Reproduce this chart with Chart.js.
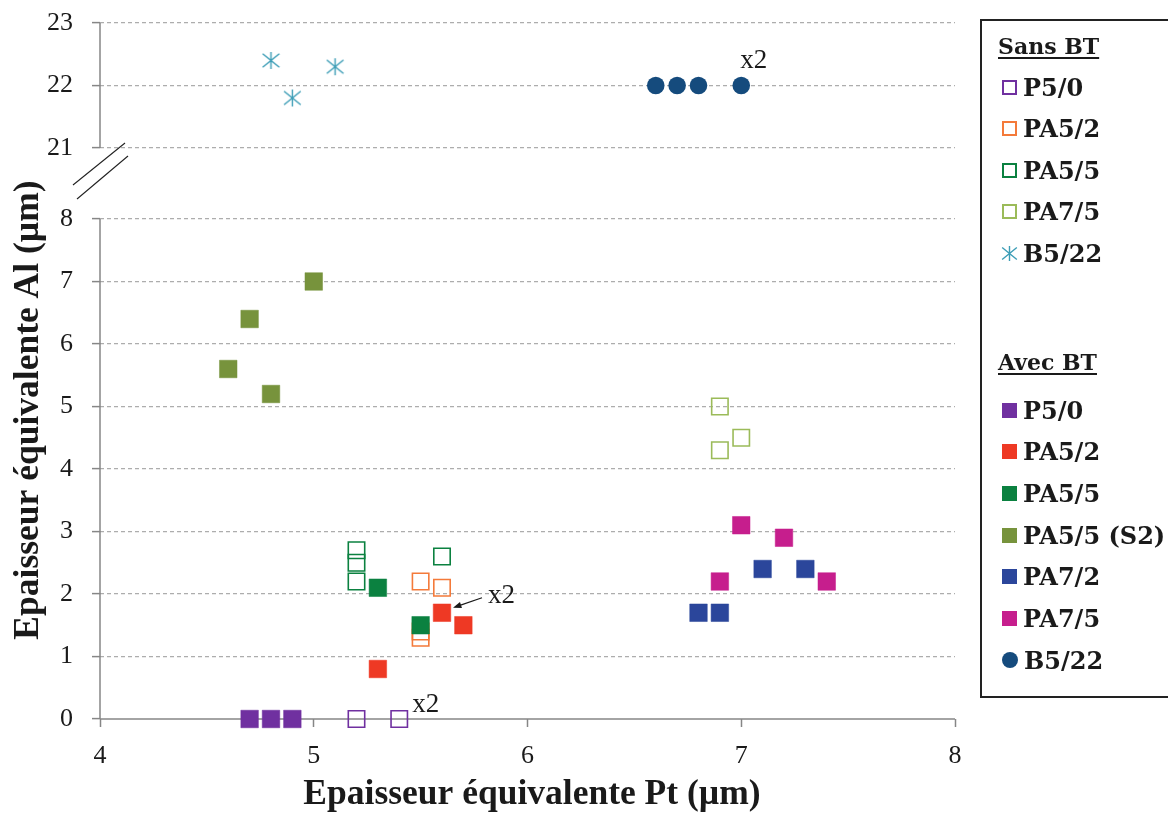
<!DOCTYPE html>
<html><head><meta charset="utf-8">
<script src="https://cdn.jsdelivr.net/npm/chart.js@4.4.1/dist/chart.umd.min.js"></script>
<style>
html,body{margin:0;padding:0;background:#fff;}
#wrap{position:relative;width:1168px;height:815px;overflow:hidden;}
#c{position:absolute;left:0;top:0;}
#legend{position:absolute;left:980px;top:19px;width:230px;height:679px;border:2px solid #222;box-sizing:border-box;font-family:"DejaVu Serif";font-weight:bold;font-size:24px;color:#1a1a1a;}
.row{position:absolute;left:20px;height:30px;display:flex;align-items:center;transform:translateY(-50%);white-space:nowrap;}
.head{position:absolute;left:16px;font-size:22px;text-decoration:underline;text-underline-offset:3px;text-decoration-thickness:2px;transform:translateY(-50%);white-space:nowrap;}
.mk{width:15px;height:15px;box-sizing:border-box;margin-right:6px;flex:none;}
</style></head>
<body><div id="wrap"><canvas id="c" width="1168" height="815"></canvas><div id="legend"></div></div>
<script>
// ---- data ----
const X_TICKS = [4, 5, 6, 7, 8];
const Y_TICKS = [0, 1, 2, 3, 4, 5, 6, 7, 8, 21, 22, 23];
const X_TITLE = 'Epaisseur équivalente Pt (µm)';
const Y_TITLE = 'Epaisseur équivalente Al (µm)';
const GROUP_SANS = 'Sans BT';
const GROUP_AVEC = 'Avec BT';

// Sans BT (open markers)
const SANS_P5_0  = [[5.2, 0], [5.4, 0]];
const SANS_PA5_2 = [[5.5, 2.2], [5.6, 2.1], [5.5, 1.4], [5.5, 1.3]];
const SANS_PA5_5 = [[5.2, 2.7], [5.2, 2.5], [5.2, 2.2], [5.6, 2.6]];
const SANS_PA7_5 = [[6.9, 5.0], [6.9, 4.3], [7.0, 4.5]];
const SANS_B5_22 = [[4.8, 22.4], [4.9, 21.8], [5.1, 22.3]];
// Avec BT (filled markers)
const AVEC_P5_0    = [[4.7, 0], [4.8, 0], [4.9, 0]];
const AVEC_PA5_2   = [[5.3, 0.8], [5.6, 1.7], [5.7, 1.5]];
const AVEC_PA5_5   = [[5.3, 2.1], [5.5, 1.5]];
const AVEC_PA5_5S2 = [[4.6, 5.6], [4.7, 6.4], [4.8, 5.2], [5.0, 7.0]];
const AVEC_PA7_2   = [[6.8, 1.7], [6.9, 1.7], [7.1, 2.4], [7.3, 2.4]];
const AVEC_PA7_5   = [[6.9, 2.2], [7.0, 3.1], [7.2, 2.9], [7.4, 2.2]];
const AVEC_B5_22   = [[6.6, 22], [6.7, 22], [6.8, 22], [7.0, 22]];

// "x2" annotations: [x, y] of the duplicated point
const DUP_TOP = [7.0, 22];
const DUP_MID = [5.6, 1.7];
const DUP_LOW = [5.4, 0];
const DUP_TEXT = 'x2';

// ---- broken axis mapping ----
const BREAK_LO = 8, BREAK_HI = 21, BREAK_GAP = 1.136;
const toAxis = v => v >= BREAK_HI ? v - BREAK_HI + BREAK_LO + BREAK_GAP : v;
const fromAxis = a => a > BREAK_LO + BREAK_GAP / 2 ? a - BREAK_LO - BREAK_GAP + BREAK_HI : a;

const C = {
  purple: '#7030A0', orange: '#F47A3A', green: '#0B8140', lgreen: '#9BBB59', teal: '#3C9DB6',
  red: '#EE3924', olive: '#77933C', blue: '#2B469B', magenta: '#C61E8D', navy: '#154B7D'
};

function starCanvas(color, s) {
  const cv = document.createElement('canvas');
  cv.width = s; cv.height = s;
  const g = cv.getContext('2d');
  g.strokeStyle = color; g.lineWidth = 1.4;
  const h = s / 2, r = s / 2 - 1, dx = r * 0.98, dy = r * 0.8;
  g.beginPath();
  g.moveTo(h, h - r); g.lineTo(h, h + r);
  g.moveTo(h - dx, h - dy); g.lineTo(h + dx, h + dy);
  g.moveTo(h - dx, h + dy); g.lineTo(h + dx, h - dy);
  g.stroke();
  return cv;
}

const pts = arr => arr.map(([x, y]) => ({x, y: toAxis(y)}));
const filled = (label, data, color) => ({label, data: pts(data), pointStyle: 'rect', pointRadius: 12.4,
  backgroundColor: color, borderColor: color, borderWidth: 0.5});
const open = (label, data, color) => ({label, data: pts(data), pointStyle: 'rect', pointRadius: 11.6,
  backgroundColor: 'rgba(255,255,255,0)', borderColor: color, borderWidth: 1.6});

const datasets = [
  {label: 'B5/22 ' + GROUP_AVEC, data: pts(AVEC_B5_22), pointStyle: 'circle', pointRadius: 8.8,
    backgroundColor: C.navy, borderColor: C.navy, borderWidth: 0},
  filled('PA7/5 ' + GROUP_AVEC, AVEC_PA7_5, C.magenta),
  filled('PA7/2 ' + GROUP_AVEC, AVEC_PA7_2, C.blue),
  filled('PA5/5 (S2) ' + GROUP_AVEC, AVEC_PA5_5S2, C.olive),
  filled('PA5/5 ' + GROUP_AVEC, AVEC_PA5_5, C.green),
  filled('PA5/2 ' + GROUP_AVEC, AVEC_PA5_2, C.red),
  filled('P5/0 ' + GROUP_AVEC, AVEC_P5_0, C.purple),
  {label: 'B5/22 ' + GROUP_SANS, data: pts(SANS_B5_22), pointStyle: starCanvas(C.teal, 19), pointRadius: 9,
    backgroundColor: C.teal, borderColor: C.teal},
  open('PA7/5 ' + GROUP_SANS, SANS_PA7_5, C.lgreen),
  open('PA5/5 ' + GROUP_SANS, SANS_PA5_5, C.green),
  open('PA5/2 ' + GROUP_SANS, SANS_PA5_2, C.orange),
  open('P5/0 ' + GROUP_SANS, SANS_P5_0, C.purple)
];
datasets.forEach(d => { d.showLine = false; d.clip = false; });

const TICK_FONT = {family: '"Liberation Serif"', size: 26};
const AXIS_GREY = '#868686';

function line(ctx, x1, y1, x2, y2) { ctx.beginPath(); ctx.moveTo(x1, y1); ctx.lineTo(x2, y2); ctx.stroke(); }

const decor = {
  id: 'decor',
  beforeDatasetsDraw(chart) {
    const {ctx, chartArea: a, scales: {x, y}} = chart;
    ctx.save();
    ctx.strokeStyle = AXIS_GREY; ctx.lineWidth = 1.5;
    const y0 = y.getPixelForValue(0);
    line(ctx, a.left, y0, a.right, y0);
    const p8 = y.getPixelForValue(BREAK_LO), p21 = y.getPixelForValue(toAxis(BREAK_HI));
    line(ctx, a.left, y0, a.left, p8);
    line(ctx, a.left, p21, a.left, a.top);
    // break marks
    ctx.strokeStyle = '#222'; ctx.lineWidth = 1.1;
    line(ctx, a.left - 27, p21 + 37, a.left + 25, p21 - 5);
    line(ctx, a.left - 23, p21 + 51, a.left + 28, p21 + 8);
    ctx.restore();
  },
  afterDatasetsDraw(chart) {
    const {ctx, scales: {x, y}} = chart;
    ctx.save();
    ctx.fillStyle = '#1a1a1a';
    ctx.font = '27px "Liberation Serif"';
    ctx.textAlign = 'left'; ctx.textBaseline = 'alphabetic';
    const px = p => [x.getPixelForValue(p[0]), y.getPixelForValue(toAxis(p[1]))];
    let [tx, ty] = px(DUP_TOP); ctx.fillText(DUP_TEXT, tx - 1, ty - 18);
    [tx, ty] = px(DUP_LOW); ctx.fillText(DUP_TEXT, tx + 13, ty - 7);
    [tx, ty] = px(DUP_MID); ctx.fillText(DUP_TEXT, tx + 46, ty - 10);
    // arrow
    ctx.strokeStyle = '#1a1a1a'; ctx.lineWidth = 1.2;
    const ax1 = tx + 40, ay1 = ty - 15, ax2 = tx + 11, ay2 = ty - 5;
    line(ctx, ax1, ay1, ax2 + 4, ay2 - 1.4);
    const ang = Math.atan2(ay2 - ay1, ax2 - ax1);
    ctx.beginPath();
    ctx.moveTo(ax2, ay2);
    ctx.lineTo(ax2 - 9 * Math.cos(ang - 0.35), ay2 - 9 * Math.sin(ang - 0.35));
    ctx.lineTo(ax2 - 9 * Math.cos(ang + 0.35), ay2 - 9 * Math.sin(ang + 0.35));
    ctx.closePath(); ctx.fill();
    // axis titles
    ctx.font = 'bold 35.5px "Liberation Serif"';
    ctx.textAlign = 'center';
    ctx.fillText(X_TITLE, 532, 804);
    ctx.translate(38, 410); ctx.rotate(-Math.PI / 2);
    ctx.fillText(Y_TITLE, 0, 0);
    ctx.restore();
  }
};

new Chart(document.getElementById('c'), {
  type: 'scatter',
  data: {datasets},
  options: {
    responsive: false, animation: false, devicePixelRatio: 1, events: [],
    layout: {padding: {top: 23, right: 213, bottom: 0, left: 0}},
    plugins: {legend: {display: false}, tooltip: {enabled: false}},
    scales: {
      x: {
        type: 'linear', min: X_TICKS[0], max: X_TICKS[X_TICKS.length - 1],
        afterBuildTicks: s => { s.ticks = X_TICKS.map(v => ({value: v})); },
        afterFit: s => { s.height = 96; s.paddingLeft = 0; s.paddingRight = 0; },
        grid: {drawOnChartArea: false, drawTicks: true, tickLength: 8, tickColor: AXIS_GREY, tickWidth: 1.5},
        border: {display: false},
        ticks: {font: TICK_FONT, color: '#1a1a1a', padding: 14, maxRotation: 0}
      },
      y: {
        type: 'linear', min: 0, max: toAxis(Y_TICKS[Y_TICKS.length - 1]),
        afterBuildTicks: s => { s.ticks = Y_TICKS.map(v => ({value: toAxis(v)})); },
        afterFit: s => { s.width = 100; s.paddingTop = 0; s.paddingBottom = 0; },
        grid: {
          drawOnChartArea: true, drawTicks: true, tickLength: 8,
          color: c => (c.tick && c.tick.value === 0) ? 'rgba(0,0,0,0)' : '#ADADAD',
          lineWidth: 1.2, tickColor: AXIS_GREY, tickWidth: 1.5, tickBorderDash: []
        },
        border: {display: false, dash: [4, 3]},
        ticks: {font: TICK_FONT, color: '#1a1a1a', padding: 19,
          callback: v => String(Math.round(fromAxis(v)))}
      }
    }
  },
  plugins: [decor]
});

// ---- legend (HTML) ----
const LEGEND_SANS = [['P5/0', 'open', C.purple], ['PA5/2', 'open', C.orange], ['PA5/5', 'open', C.green],
  ['PA7/5', 'open', C.lgreen], ['B5/22', 'star', C.teal]];
const LEGEND_AVEC = [['P5/0', 'fill', C.purple], ['PA5/2', 'fill', C.red], ['PA5/5', 'fill', C.green],
  ['PA5/5 (S2)', 'fill', C.olive], ['PA7/2', 'fill', C.blue], ['PA7/5', 'fill', C.magenta], ['B5/22', 'circle', C.navy]];
(function () {
  const L = document.getElementById('legend');
  const off = 21; // top of legend + border
  function head(text, yc) {
    const d = document.createElement('div'); d.className = 'head'; d.textContent = text;
    d.style.top = (yc - off) + 'px'; L.appendChild(d);
  }
  function row(item, yc) {
    const [text, kind, col] = item;
    const d = document.createElement('div'); d.className = 'row'; d.style.top = (yc - off) + 'px';
    let m;
    if (kind === 'star') {
      m = starCanvas(col, 17); m.className = 'mk'; m.style.width = '17px'; m.style.height = '17px'; m.style.marginLeft = '-1px'; m.style.marginRight = '5px';
    } else {
      m = document.createElement('div'); m.className = 'mk';
      if (kind === 'open') m.style.border = '2px solid ' + col;
      else { m.style.background = col; }
      if (kind === 'circle') { m.style.borderRadius = '50%'; m.style.width = '16px'; m.style.height = '16px'; }
    }
    d.appendChild(m);
    const t = document.createElement('span'); t.textContent = text; d.appendChild(t);
    L.appendChild(d);
  }
  head(GROUP_SANS, 46);
  LEGEND_SANS.forEach((it, i) => row(it, 87 + i * 41.6));
  head(GROUP_AVEC, 362);
  LEGEND_AVEC.forEach((it, i) => row(it, 410 + i * 41.7));
})();
</script></body></html>
